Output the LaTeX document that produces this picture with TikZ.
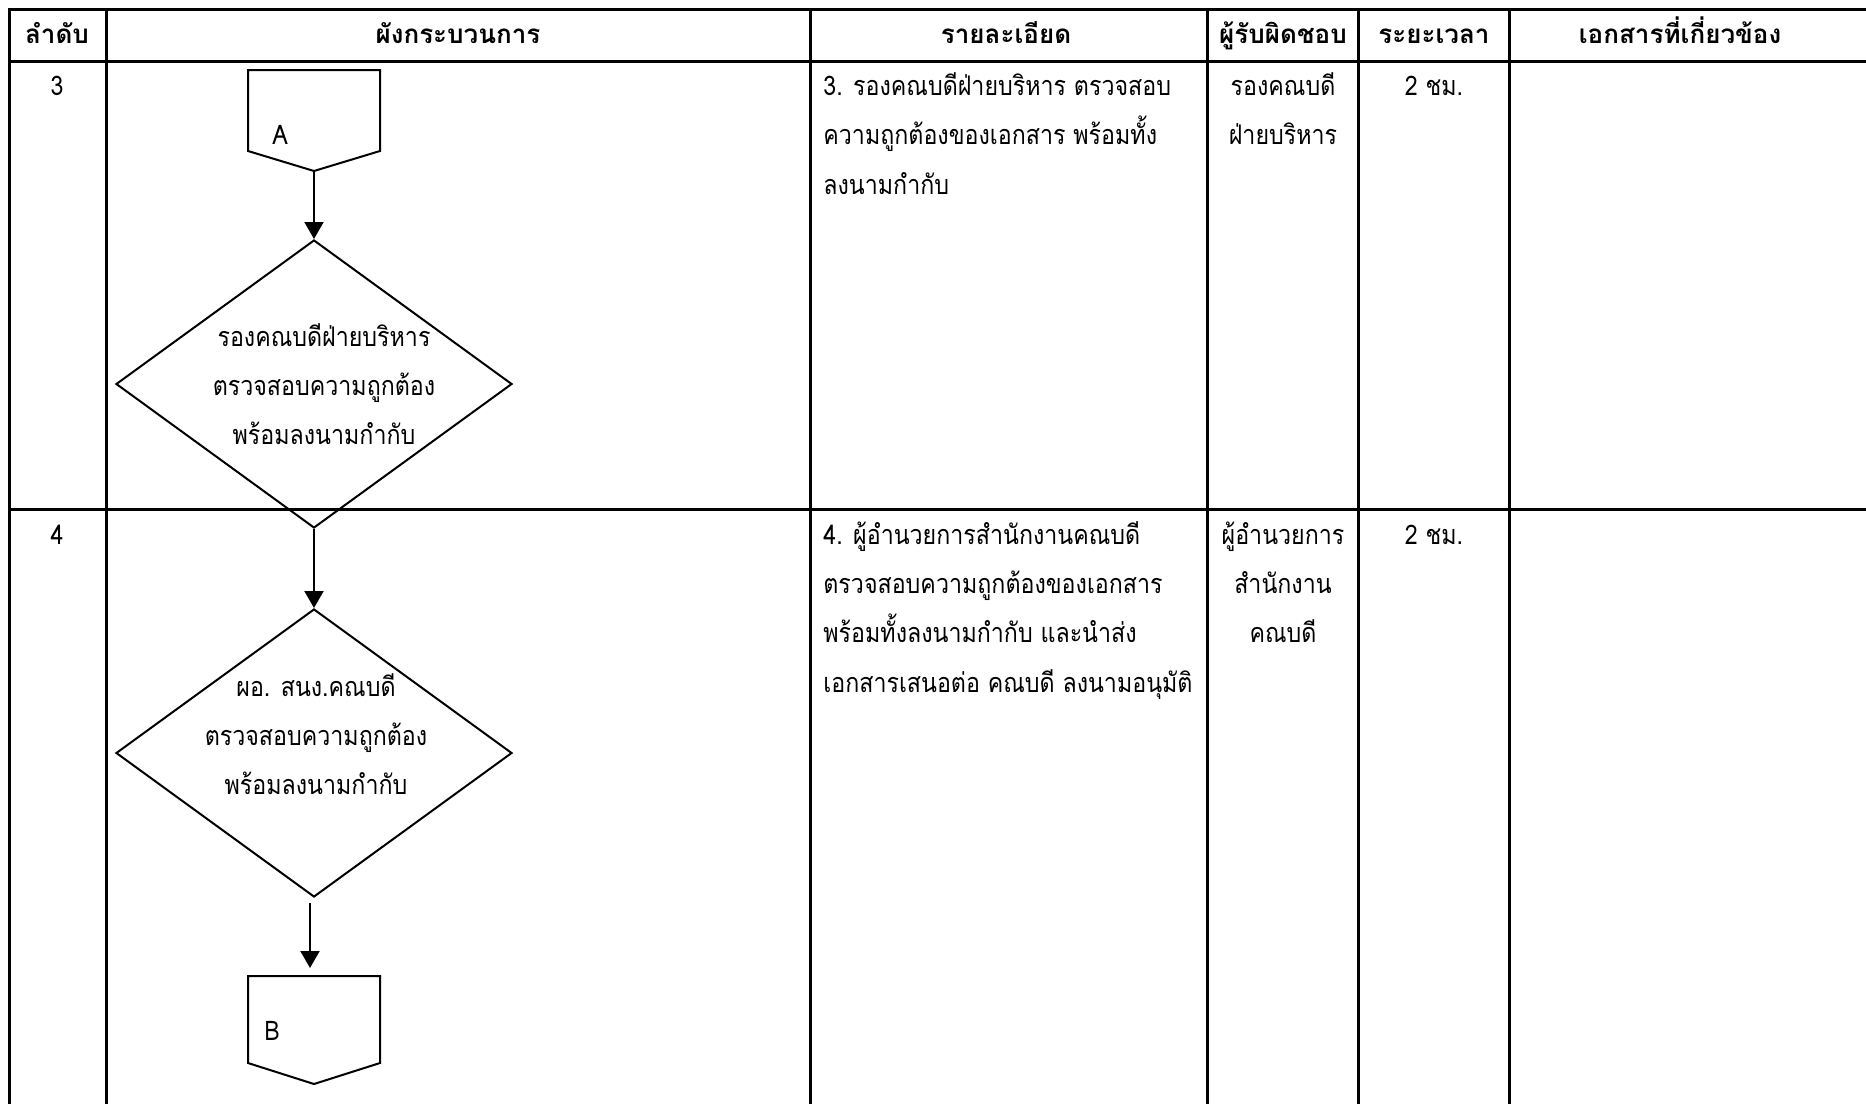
\documentclass[tikz,border=0pt]{standalone}
\usepackage{fontspec}
\setmainfont[Script=Thai,FakeStretch=0.86]{Loma}
\newfontfamily\hdrfont[Script=Thai]{Loma}
\usetikzlibrary{shapes.geometric,arrows.meta}
\begin{document}
\begin{tikzpicture}[x=0.5pt,y=-0.5pt,
  tbl/.style={line width=1.5pt,line cap=rect},
  flow/.style={line width=1pt,line join=miter},
  arr/.style={line width=1pt,-{Triangle[length=8.5pt,width=9.5pt]}},
  decision/.style={draw,line width=1pt,shape=diamond,minimum width=198pt,minimum height=144pt,inner sep=0pt},
  hdr/.style={font=\hdrfont\bfseries\fontsize{13}{16}\selectfont,inner sep=0pt,anchor=base},
  cell/.style={font=\fontsize{13.5}{24.5}\selectfont,inner sep=0pt},
  dtext/.style={font=\fontsize{13.5}{24.5}\selectfont,inner sep=0pt,align=center}
]
\useasboundingbox (0,0) rectangle (1866,1103);
% table grid
\draw[tbl] (1866,9) -- (9,9) -- (9,1103);
\draw[tbl] (9,61) -- (1866,61);
\draw[tbl] (9,509) -- (1866,509);
\foreach \x in {106,810,1207,1358,1509} \draw[tbl] (\x,9) -- (\x,1103);
% headers
\node[hdr] (h1) at (57,43) {ลำดับ};
\node[hdr] (h2) at (458,43) {ผังกระบวนการ};
\node[hdr] (h3) at (1006,43) {รายละเอียด};
\node[hdr] (h4) at (1283,43) {ผู้รับผิดชอบ};
\node[hdr] (h5) at (1434,43) {ระยะเวลา};
\node[hdr] (h6) at (1680,43) {เอกสารที่เกี่ยวข้อง};
% row 3
\node[cell,anchor=base] (n3) at (57,95) {3};
\node[cell,anchor=base west] (d3a) at (823,95) {3. รองคณบดีฝ่ายบริหาร ตรวจสอบ};
\node[cell,anchor=base west] (d3b) at (823,144) {ความถูกต้องของเอกสาร พร้อมทั้ง};
\node[cell,anchor=base west] (d3c) at (823,194) {ลงนามกำกับ};
\node[cell,anchor=base] (r3a) at (1283,95) {รองคณบดี};
\node[cell,anchor=base] (r3b) at (1283,144) {ฝ่ายบริหาร};
\node[cell,anchor=base] (t3) at (1434,95) {2 ชม.};
% row 4
\node[cell,anchor=base] (n4) at (57,544) {4};
\node[cell,anchor=base west] (d4a) at (823,544) {4. ผู้อำนวยการสำนักงานคณบดี};
\node[cell,anchor=base west] (d4b) at (823,593) {ตรวจสอบความถูกต้องของเอกสาร};
\node[cell,anchor=base west] (d4c) at (823,642) {พร้อมทั้งลงนามกำกับ และนำส่ง};
\node[cell,anchor=base west] (d4d) at (823,692) {เอกสารเสนอต่อ คณบดี ลงนามอนุมัติ};
\node[cell,anchor=base] (r4a) at (1283,544) {ผู้อำนวยการ};
\node[cell,anchor=base] (r4b) at (1283,593) {สำนักงาน};
\node[cell,anchor=base] (r4c) at (1283,642) {คณบดี};
\node[cell,anchor=base] (t4) at (1434,544) {2 ชม.};
% connector A
\draw[flow] (248,70) -- (380,70) -- (380,151) -- (314,171) -- (248,151) -- cycle;
\coordinate (Aout) at (314,171);
\node[cell,anchor=base] (Alab) at (280,144) {A};
% decisions
\node[decision] (D1) at (314,384) {};
\node[dtext] (D1t) at (324,384) {รองคณบดีฝ่ายบริหาร\\ตรวจสอบความถูกต้อง\\พร้อมลงนามกำกับ};
\node[decision] (D2) at (314,753) {};
\node[dtext] (D2t) at (316,734) {ผอ. สนง.คณบดี\\ตรวจสอบความถูกต้อง\\พร้อมลงนามกำกับ};
% connector B
\draw[flow] (248,976) -- (380,976) -- (380,1063) -- (314,1084) -- (248,1063) -- cycle;
\coordinate (Bin) at (310,968);
\coordinate (D2out) at (310,903);
\node[cell,anchor=base] (Blab) at (272,1040) {B};
% arrows
\draw[arr] (Aout) -- (D1.north);
\draw[arr] (D1.south) -- (D2.north);
\draw[arr] (D2out) -- (Bin);
\end{tikzpicture}
\end{document}
